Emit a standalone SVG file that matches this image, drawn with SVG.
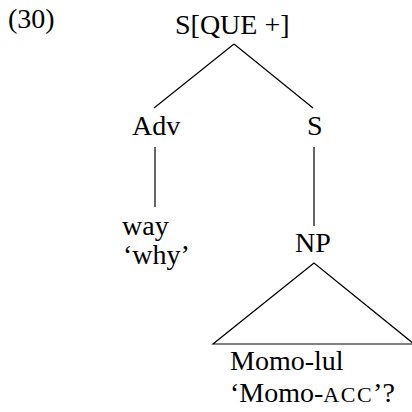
<svg xmlns="http://www.w3.org/2000/svg" width="412" height="412" viewBox="0 0 412 412">
  <style>
    text { font-family: "Liberation Serif", "Times New Roman", serif; font-size: 28px; fill: #000; }
    .sc { font-size: 22px; letter-spacing: 1.5px; }
    .edge { stroke: #000; stroke-width: 1.2; fill: none; }
  </style>
  <rect width="412" height="412" fill="#fff"/>
  <text x="8" y="28">(30)</text>
  <g id="edges">
    <line class="edge" x1="234" y1="44" x2="154" y2="108"/>
    <line class="edge" x1="234" y1="44" x2="313" y2="108"/>
    <line class="edge" x1="155" y1="147" x2="155" y2="207"/>
    <line class="edge" x1="314" y1="147" x2="314" y2="226"/>
    <polygon class="edge" points="314,263 213,344 414,344"/>
  </g>
  <g id="root"><text x="175" y="34">S[QUE +]</text></g>
  <g id="adv"><text x="132" y="135">Adv</text></g>
  <g id="s"><text x="307" y="135">S</text></g>
  <g id="way">
    <text x="122" y="235">way</text>
    <text x="123" y="264">‘why’</text>
  </g>
  <g id="np"><text x="295" y="252">NP</text></g>
  <g id="momo">
    <text x="230" y="370">Momo-lul</text>
    <text x="230" y="402">‘Momo-<tspan class="sc">ACC</tspan>’?</text>
  </g>
</svg>
